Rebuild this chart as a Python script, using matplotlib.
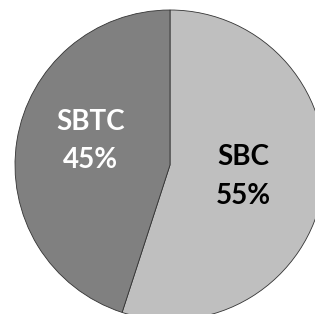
import matplotlib
matplotlib.use("Agg")
import matplotlib.pyplot as plt

labels = ["SBC", "SBTC"]
shares = [55, 45]
colors = ["#bfbfbf", "#808080"]
text_colors = ["#000000", "#ffffff"]
label_pos = [(0.47, -0.075), (-0.515, 0.155)]

fig = plt.figure(figsize=(3.15, 3.14), dpi=100)
ax = fig.add_axes([15/315, -6/314, 310/315, 310/314])

wedges, texts, autotexts = ax.pie(
    shares, colors=colors, startangle=90, counterclock=False,
    autopct="%d%%", pctdistance=0.5,
    wedgeprops=dict(edgecolor="#333333", linewidth=0.6))

for lab, t, c, p in zip(labels, autotexts, text_colors, label_pos):
    t.set_text(lab + "\n" + t.get_text())
    t.set_position(p)
    t.set_color(c)
    t.set_fontsize(20)
    t.set_fontweight("bold")
    t.set_fontfamily("Lato")
    t.set_linespacing(1.6)

ax.set_xlim(-1, 1)
ax.set_ylim(-1, 1)
ax.set_aspect("equal")
ax.axis("off")

fig.savefig("out.png", dpi=100)
